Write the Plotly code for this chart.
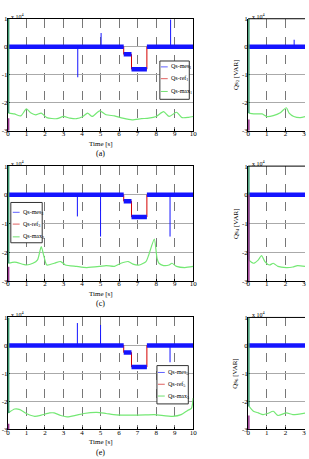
import plotly.graph_objects as go

W, H = 309, 459

# ---------------- data ----------------
step_times = [6.25, 6.67, 7.5]

# levels of measured / reference reactive power per segment [0,6.25],[6.25,6.67],[6.67,7.5],[7.5,10]
levels_1 = [0.0, -0.27, -0.80, 0.0]
levels_3 = [0.0, -0.22, -0.77, 0.0]
levels_5 = [0.0, -0.25, -0.77, 0.0]
levels_2 = [0.0, 0.0, 0.0, 0.0]
levels_4 = [0.0, 0.0, 0.0, 0.0]
levels_6 = [0.0, 0.0, 0.0, 0.0]

# visible part of the initial Qs-ref transient at t=0 (from, to)
ref_init_1 = (-3.0, -2.55)
ref_init_3 = (-3.0, -2.5)
ref_init_5 = (-3.0, -2.8)
ref_init_2 = (-3.0, -2.6)
ref_init_4 = (-3.0, 0.0)
ref_init_6 = (-3.0, -2.5)

# spikes in Qs-mes: (time, peak)
spikes_1 = [(3.77, -1.09), (5.03, 0.49), (8.78, 0.97)]
spikes_3 = [(3.75, -0.75), (5.0, -1.45), (8.75, -1.45)]
spikes_5 = [(3.75, 0.80), (5.0, 0.73), (8.75, -0.60)]
spikes_2 = [(2.47, 0.25)]
spikes_4 = []
spikes_6 = []

# Qs-max (first point = initial transient at t=0)
t_max_1 = [0, 0.02, 0.35, 0.7, 1.0, 1.25, 1.5, 1.8, 2.1, 2.65, 3.0, 3.35, 3.7, 4.05, 4.3, 4.55,
           4.95, 5.3, 5.75, 6.2, 6.7, 7.2, 7.6, 8.0, 8.4, 8.7, 9.1, 9.4, 9.75, 10]
qs_max_1 = [1.0, -2.37, -2.4, -2.47, -2.22, -2.37, -2.43, -2.37, -2.53, -2.57, -2.49, -2.55, -2.57,
            -2.49, -2.37, -2.49, -2.29, -2.43, -2.47, -2.55, -2.61, -2.57, -2.55, -2.49, -2.32,
            -2.49, -2.34, -2.53, -2.52, -2.49]
t_max_3 = [0, 0.02, 0.37, 1.0, 1.35, 1.6, 1.8, 1.95, 2.1, 2.5, 2.85, 3.1, 3.7, 4.25, 4.95, 5.3,
           5.75, 6.1, 6.5, 6.75, 7.1, 7.45, 7.6, 7.9, 8.05, 8.15, 8.4, 8.7, 8.85, 9.1, 9.55, 10]
qs_max_3 = [1.0, -2.38, -2.34, -2.44, -2.38, -2.26, -1.8, -2.15, -2.44, -2.38, -2.32, -2.44, -2.49,
            -2.53, -2.49, -2.46, -2.49, -2.38, -2.32, -2.41, -2.44, -2.32, -2.09, -1.54, -2.21,
            -2.38, -2.46, -2.44, -2.38, -2.49, -2.53, -2.49]
t_max_5 = [0, 0.02, 0.37, 0.65, 1.0, 1.45, 1.8, 2.25, 2.5, 2.85, 3.2, 3.65, 4.1, 4.8, 5.3, 5.85,
           6.75, 7.45, 7.9, 8.9, 9.35, 9.7, 9.9, 10]
qs_max_5 = [1.0, -2.41, -2.27, -2.29, -2.43, -2.53, -2.49, -2.41, -2.41, -2.5, -2.55, -2.5, -2.43,
            -2.39, -2.43, -2.48, -2.49, -2.48, -2.47, -2.53, -2.47, -2.32, -2.25, -1.88]
t_max_2 = [0, 0.02, 0.3, 0.75, 1.0, 1.35, 1.7, 1.9, 2.05, 2.2, 2.45, 2.8, 3.1]
qs_max_2 = [1.0, -2.37, -2.4, -2.4, -2.49, -2.46, -2.37, -2.25, -2.18, -2.37, -2.49, -2.53, -2.49]
t_max_4 = [0, 0.02, 0.28, 0.55, 0.72, 0.9, 1.15, 1.35, 1.6, 2.05, 2.4, 2.65, 3.1]
qs_max_4 = [1.0, -2.26, -2.38, -2.26, -2.11, -2.32, -2.44, -2.38, -2.49, -2.53, -2.51, -2.46, -2.49]
t_max_6 = [0, 0.05, 0.28, 0.55, 0.8, 1.05, 1.35, 1.6, 2.05, 2.4, 3.1]
qs_max_6 = [1.0, -2.18, -2.35, -2.41, -2.47, -2.43, -2.35, -2.5, -2.41, -2.47, -2.41]

x_ticks_left = [0, 1, 2, 3, 4, 5, 6, 7, 8, 9, 10]
x_ticks_right = [0, 1, 2, 3]
y_ticks = [1, 0, -1, -2, -3]
y_tick_text = ["1", "0", "-1", "-2", "-3"]
panel_labels = {1: "(a)", 3: "(c)", 5: "(e)"}

panels = {
    1: (levels_1, spikes_1, t_max_1, qs_max_1, ref_init_1),
    2: (levels_2, spikes_2, t_max_2, qs_max_2, ref_init_2),
    3: (levels_3, spikes_3, t_max_3, qs_max_3, ref_init_3),
    4: (levels_4, spikes_4, t_max_4, qs_max_4, ref_init_4),
    5: (levels_5, spikes_5, t_max_5, qs_max_5, ref_init_5),
    6: (levels_6, spikes_6, t_max_6, qs_max_6, ref_init_6),
}

# ---------------- layout geometry (px) ----------------
rows_px = {0: (15, 129), 1: (165, 282), 2: (319, 433)}
left_x_px = (6, 195)
right_x_px = (251, 309)
right_px_per_unit = 19.0

BLUE = "#1414ff"
RED = "#d40000"
GREEN = "#74e874"
FONT = "Liberation Serif"


def px(x):
    return x / W


def py(y):
    return 1 - y / H


fig = go.Figure()
shapes = []
annotations = []

for k, (levels, spikes, tmax, qmax, rinit) in panels.items():
    row = (k - 1) // 2
    left = (k % 2 == 1)
    xa = "x" if k == 1 else f"x{k}"
    ya = "y" if k == 1 else f"y{k}"

    # reference steps
    t0, t1, t2 = step_times
    rx = [0.0, t0, t0, t1, t1, t2, t2, 10.0]
    ry = [levels[0], levels[0], levels[1], levels[1], levels[2], levels[2], levels[3], levels[3]]
    fig.add_trace(go.Scatter(x=rx, y=ry, mode="lines", line=dict(color=RED, width=1.0),
                             xaxis=xa, yaxis=ya, showlegend=False))
    # measured band
    bounds = [0.0] + step_times + [10.0]
    bx, by = [], []
    for i in range(4):
        bx += [bounds[i], bounds[i + 1], None]
        by += [levels[i], levels[i], None]
    fig.add_trace(go.Scatter(x=bx, y=by, mode="lines", line=dict(color=BLUE, width=4.5),
                             xaxis=xa, yaxis=ya, showlegend=False))
    # spikes
    sx, sy = [], []
    for (ts, pk) in spikes:
        base = levels[sum(1 for b in step_times if ts >= b)]
        sx += [ts, ts, None]
        sy += [base, pk, None]
    if sx:
        fig.add_trace(go.Scatter(x=sx, y=sy, mode="lines", line=dict(color=BLUE, width=1),
                                 xaxis=xa, yaxis=ya, showlegend=False))
    # max: smooth curve
    fig.add_trace(go.Scatter(x=tmax[1:], y=qmax[1:], mode="lines",
                             line=dict(color=GREEN, width=1.2, shape="spline", smoothing=0.6),
                             xaxis=xa, yaxis=ya, showlegend=False))
    # initial transients at t=0
    fig.add_trace(go.Scatter(x=[tmax[0], tmax[0]], y=[qmax[0], qmax[1]], mode="lines",
                             line=dict(color="#3c9a70", width=3),
                             xaxis=xa, yaxis=ya, showlegend=False))
    fig.add_trace(go.Scatter(x=[0.0, 0.0], y=list(rinit), mode="lines",
                             line=dict(color="#9a3590", width=3),
                             xaxis=xa, yaxis=ya, showlegend=False))

    y0p, y1p = rows_px[row]
    if left:
        xd = [px(left_x_px[0]), px(left_x_px[1])]
        xr = [0, 10]
        xt = x_ticks_left
    else:
        xd = [px(right_x_px[0]), 1.0]
        xr = [0, (right_x_px[1] - right_x_px[0]) / right_px_per_unit]
        xt = x_ticks_right
    xkey = "xaxis" if k == 1 else f"xaxis{k}"
    ykey = "yaxis" if k == 1 else f"yaxis{k}"
    fig.update_layout(**{
        xkey: dict(domain=xd, range=xr, anchor=ya, tickvals=xt, showline=True,
                   mirror=left, linecolor="black", linewidth=1, ticks="inside", ticklen=2,
                   tickcolor="black", showgrid=True, gridcolor="#777", griddash="dash",
                   gridwidth=0.7, zeroline=False, layer="below traces",
                   ticklabelstandoff=-4,
                   tickfont=dict(family=FONT, size=7, color="black")),
        ykey: dict(domain=[py(y1p), py(y0p)], range=[-3, 1], anchor=xa, tickvals=y_ticks,
                   ticktext=y_tick_text, showline=True, mirror=left, linecolor="black",
                   linewidth=1, ticks="inside", ticklen=2, tickcolor="black", showgrid=True,
                   gridcolor="#aaa", gridwidth=0.8, zeroline=False, layer="below traces",
                   ticklabelstandoff=-2,
                   tickfont=dict(family=FONT, size=7, color="black")),
    })

    if not left:
        shapes.append(dict(type="line", xref="paper", yref="paper", x0=xd[0], x1=1.0,
                           y0=py(y0p), y1=py(y0p), line=dict(color="black", width=1)))
        annotations.append(dict(text=f"Qs<sub>{k}</sub> [VAR]", x=px(238), y=py((y0p + y1p) / 2),
                                xref="paper", yref="paper", xanchor="center", yanchor="middle",
                                textangle=-90, showarrow=False,
                                font=dict(family=FONT, size=7, color="black")))
        xm = right_x_px[0] + 2
    else:
        xc = px((left_x_px[0] + left_x_px[1]) / 2)
        annotations.append(dict(text="Time [s]", x=xc, y=py(y1p + 13), xref="paper", yref="paper",
                                xanchor="center", yanchor="middle", showarrow=False,
                                font=dict(family=FONT, size=7, color="black")))
        annotations.append(dict(text=panel_labels[k], x=xc, y=py(y1p + 23), xref="paper",
                                yref="paper", xanchor="center", yanchor="middle", showarrow=False,
                                font=dict(family=FONT, size=8, color="black")))
        xm = left_x_px[0] + 1
    annotations.append(dict(text="x 10<sup>4</sup>", x=px(xm), y=py(y0p - 3), xref="paper",
                            yref="paper", xanchor="left", yanchor="middle", showarrow=False,
                            font=dict(family=FONT, size=6, color="black")))

# ---------------- manual legends ----------------
legend_boxes = {
    1: ((161, 58, 191, 97), [64, 76, 89], (162, 169, 170)),
    3: ((9, 202, 41, 243), [212, 224, 237], (11, 18, 19)),
    5: ((158, 368, 190, 407), [375, 387, 399], (159, 166, 167)),
}
legend_names = ["Qs-mes", "Qs-ref", "Qs-max"]
legend_colors = ["#6060ff", "#e06060", "#70e070"]
for k, (box, ys, (sx0, sx1, tx)) in legend_boxes.items():
    shapes.append(dict(type="rect", xref="paper", yref="paper", x0=px(box[0]), x1=px(box[2]),
                       y0=py(box[3]), y1=py(box[1]), line=dict(color="#333", width=1),
                       fillcolor="white", layer="above"))
    for name, col, yy in zip(legend_names, legend_colors, ys):
        shapes.append(dict(type="line", xref="paper", yref="paper", x0=px(sx0), x1=px(sx1),
                           y0=py(yy), y1=py(yy), line=dict(color=col, width=1), layer="above"))
        annotations.append(dict(text=f"{name}<sub>{k}</sub>", x=px(tx), y=py(yy), xref="paper",
                                yref="paper", xanchor="left", yanchor="middle", showarrow=False,
                                font=dict(family=FONT, size=6, color="black")))

fig.update_layout(width=W, height=H, margin=dict(l=0, r=0, t=0, b=0),
                  paper_bgcolor="white", plot_bgcolor="white", showlegend=False,
                  shapes=shapes, annotations=annotations)

fig.write_html("out.html")
